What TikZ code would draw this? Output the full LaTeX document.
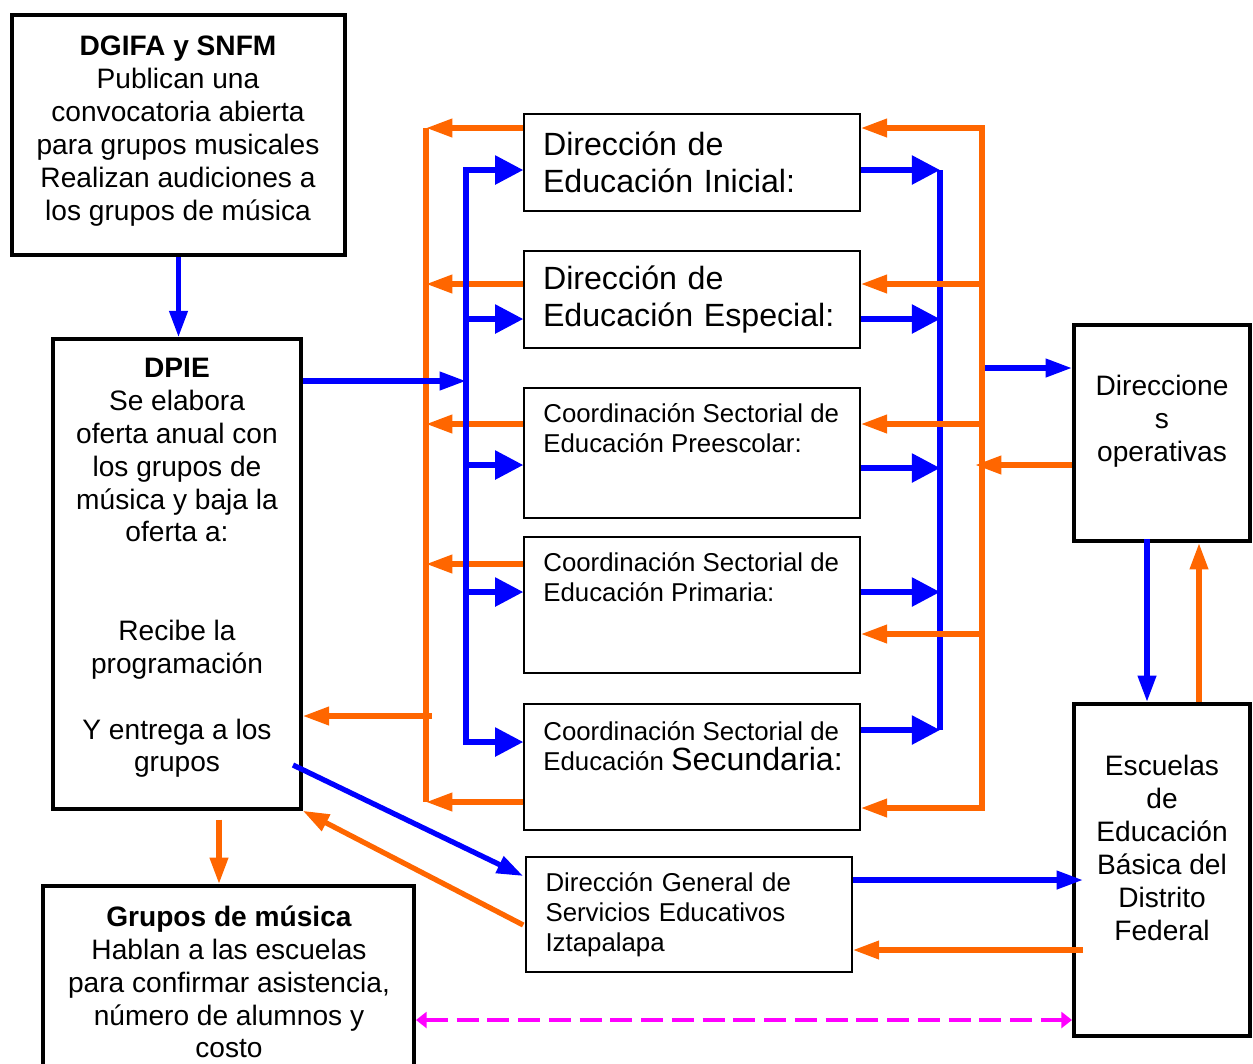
\documentclass[tikz,border=0pt]{standalone}
\usepackage{fontspec}
\setmainfont{Liberation Sans}
\usetikzlibrary{arrows.meta}
\definecolor{orng}{RGB}{255,102,0}
\definecolor{mgnt}{RGB}{255,0,255}
\definecolor{blu}{RGB}{0,0,255}

\begin{document}
\begin{tikzpicture}[x=0.02cm, y=-0.02cm,
  box/.style = {draw, rectangle, inner sep=0pt, line width=0.9pt},
  heavy/.style = {box, line width=2.3pt},
  txt/.style = {font=\fontsize{16}{18.7}\selectfont, align=center},
  sm/.style = {font=\fontsize{14.7}{17}\selectfont, align=left},
  bg/.style = {font=\fontsize{18.3}{21}\selectfont, align=left},
  bl/.style = {draw=blu, line width=3pt},
  og/.style = {draw=orng, line width=3pt},
  barr/.style = {bl, -{Triangle[length=16pt,width=16pt]}},
  barrs/.style = {bl, -{Triangle[length=15pt,width=10pt]}},
  oarr/.style = {og, -{Triangle[length=15pt,width=10pt]}},
  mg/.style = {draw=mgnt, line width=2.2pt, dash pattern=on 12.5pt off 5pt,
    {Triangle[length=6pt,width=9pt]}-{Triangle[length=6pt,width=9pt]}}]
	\useasboundingbox (0,0) rectangle (1253,1063);
	\clip (0,0) rectangle (1253,1063);
	% boxes
	\node[heavy, line width=2.8pt, minimum width=6.66cm, minimum height=4.8cm] (dgifa) at (178.5,135) {};
	\node[heavy, line width=2pt, minimum width=4.96cm, minimum height=9.4cm] (dpie) at (177,574) {};
	\node[heavy, minimum width=7.42cm, minimum height=4cm] (grupos) at (228.5,986) {};
	\node[box, bg, text width=5.96cm, inner xsep=0.38cm, minimum height=1.94cm] (inicial) at (692,162.5) {Dirección de\\Educación Inicial:};
	\node[box, bg, text width=5.96cm, inner xsep=0.38cm, minimum height=1.94cm] (especial) at (692,299.5) {Dirección de\\Educación Especial:};
	\node[box, minimum width=6.72cm, minimum height=2.6cm] (preesc) at (692,453) {};
	\node[box, minimum width=6.72cm, minimum height=2.72cm] (prim) at (692,605) {};
	\node[box, minimum width=6.72cm, minimum height=2.52cm] (secund) at (692,767) {};
	\node[box, sm, text width=5.74cm, inner xsep=0.39cm, minimum height=2.3cm] (iztap) at (689,914.5) {Dirección General de\\Servicios Educativos\\Iztapalapa};
	\node[heavy, minimum width=3.52cm, minimum height=4.32cm] (dirop) at (1162,433) {};
	\node[heavy, minimum width=3.52cm, minimum height=6.64cm] (escuelas) at (1162,870) {};
	% texts
	\node[txt] (dgifa-t) at (178,131) {\textbf{DGIFA y SNFM}\\Publican una\\convocatoria abierta\\para grupos musicales\\Realizan audiciones a\\los grupos de música};
	\node[txt] (dpie-t) at (177,568) {\textbf{DPIE}\\Se elabora\\oferta anual con\\los grupos de\\música y baja la\\oferta a:\\[37.4pt] Recibe la\\programación\\[18.7pt] Y entrega a los\\grupos};
	\node[txt] (grupos-t) at (229,982) {\textbf{Grupos de música}\\Hablan a las escuelas\\para confirmar asistencia,\\número de alumnos y\\costo};
	\node[sm, anchor=west, inner xsep=0pt] (preesc-t) at (543,428) {Coordinación Sectorial de\\Educación Preescolar:};
	\node[sm, anchor=west, inner xsep=0pt] (prim-t) at (543,577.5) {Coordinación Sectorial de\\Educación Primaria:};
	\node[sm, anchor=west, inner xsep=0pt] (secund-t) at (543,746) {Coordinación Sectorial de\\Educación {\fontsize{18.3}{21}\selectfont Secundaria:}};
	\node[txt] (dirop-t) at (1162,421) {Direccione\\s\\operativas};
	\node[txt] (escuelas-t) at (1162,848) {Escuelas\\de\\Educación\\Básica del\\Distrito\\Federal};
	% left buses
	\foreach \n/\y [count=\i] in {inicial/128,especial/284,preesc/424,prim/564,secund/802} {
		\coordinate (lo\i) at (426,\y);
		\draw[oarr] (\n.west |- lo\i) -- (lo\i);
	}
	\draw[og] (lo1) -- (lo5);
	\foreach \n/\y [count=\i] in {inicial/170,especial/319,preesc/465,prim/592,secund/742} {
		\coordinate (lb\i) at (466,\y);
		\draw[barr] (lb\i) -- (\n.west |- lb\i);
	}
	\draw[bl, line cap=rect] (lb1) -- (lb5);
	\coordinate (lbin) at (466,381);
	\draw[barrs] (dpie.east |- lbin) -- (lbin);
	\coordinate (loout) at (432,716);
	\draw[oarr] (loout) -- (dpie.east |- loout);
	% right buses
	\foreach \n/\y [count=\i] in {inicial/170,especial/319,preesc/468,prim/592,secund/730} {
		\coordinate (rb\i) at (940,\y);
		\draw[barr] (\n.east |- rb\i) -- (rb\i);
	}
	\draw[bl] (rb1) -- (rb5);
	\foreach \n/\y [count=\i] in {inicial/128,especial/284,preesc/424,prim/634,secund/808} {
		\coordinate (ro\i) at (982,\y);
		\draw[oarr] (ro\i) -- (\n.east |- ro\i);
	}
	\draw[og, line cap=rect] (ro1) -- (ro5);
	\coordinate (robl) at (985,368);
	\draw[barrs] (robl) -- (dirop.west |- robl);
	\coordinate (roin) at (975,465);
	\draw[oarr] (dirop.west |- roin) -- (roin);
	% other links
	\draw[barrs] (dgifa.south) -- (dgifa.south |- dpie.north);
	\draw[barrs] ([shift={(-0.3cm,0.08cm)}]dirop.south) -- ([xshift=-0.3cm]escuelas.north);
	\draw[oarr] ([xshift=0.74cm]escuelas.north) -- ([xshift=0.74cm]dirop.south);
	\draw[oarr] ([shift={(0.84cm,-0.18cm)}]dpie.south) -- ([xshift=0.84cm]dpie.south |- grupos.north);
	\coordinate (dpiediag) at (293,765);
	\draw[barrs] (dpiediag) -- ([shift={(-0.04cm,0.77cm)}]iztap.west);
	\draw[oarr] ([shift={(-0.04cm,-0.21cm)}]iztap.west) -- (dpie.south east);
	\draw[barrs] ([yshift=0.69cm]iztap.east) -- ([shift={(0.22cm,0.69cm)}]iztap.east -| escuelas.west);
	\draw[oarr] ([shift={(0.22cm,-0.71cm)}]iztap.east -| escuelas.west) -- ([yshift=-0.71cm]iztap.east);
	\draw[mg] ([yshift=-0.68cm]grupos.east) -- ([yshift=-0.68cm]grupos.east -| escuelas.west);
\end{tikzpicture}
\end{document}
